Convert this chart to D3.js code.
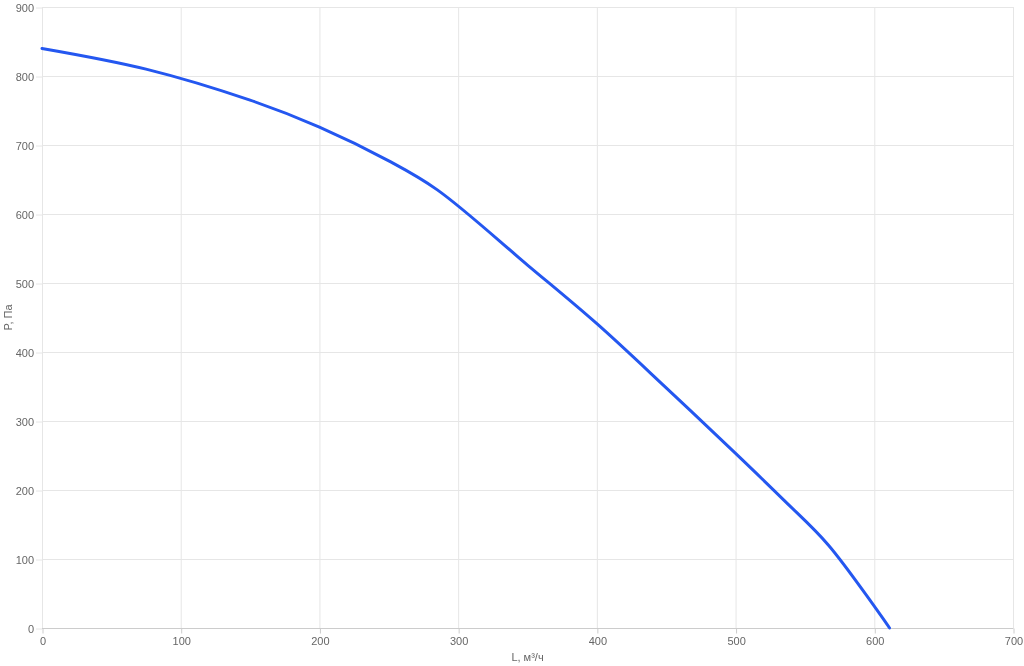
<!DOCTYPE html>
<html><head><meta charset="utf-8">
<script src="https://cdn.jsdelivr.net/npm/d3@7"></script>
<style>
html,body{margin:0;padding:0;background:#fff;}
svg{display:block;font-family:"Liberation Sans",Arial,sans-serif;will-change:transform;}
</style></head>
<body>
<svg id="chart" width="1024" height="666"></svg>
<script>
const flowValues = [0, 75, 150, 200, 250, 285, 350, 400, 450, 500, 535, 567, 611];
const pressureValues = [840, 810, 765, 726, 677, 635, 526, 441, 348, 253, 185, 120, 0];
const xTicks = [0, 100, 200, 300, 400, 500, 600, 700];
const yTicks = [0, 100, 200, 300, 400, 500, 600, 700, 800, 900];
const xTitle = "L, м³/ч";
const yTitle = "P, Па";

const svg = d3.select("#chart");
const m = {left: 42, right: 1013, top: 7, bottom: 628};
const x = d3.scaleLinear().domain([0, 700]).range([m.left, m.right]);
const y = d3.scaleLinear().domain([0, 900]).range([m.bottom, m.top]);

// grid
const grid = svg.append("g");
grid.selectAll(".vg").data(xTicks).join("line")
  .attr("x1", d => x(d) + 0.5).attr("x2", d => x(d) + 0.5)
  .attr("y1", m.top).attr("y2", m.bottom)
  .attr("stroke", "#e6e6e6").attr("stroke-width", 1);
grid.selectAll(".hg").data(yTicks).join("line")
  .attr("x1", m.left).attr("x2", m.right)
  .attr("y1", d => y(d) + 0.5).attr("y2", d => y(d) + 0.5)
  .attr("stroke", "#e6e6e6").attr("stroke-width", 1);

// axes
const xAxis = d3.axisBottom(x).tickValues(xTicks).tickSize(5).tickPadding(4);
const gx = svg.append("g").attr("transform", `translate(0.5,${m.bottom + 0.5})`).call(xAxis);
gx.select(".domain").attr("d", `M${m.left - 0.5},0H${m.right}`).attr("stroke", "#cccccc");
gx.selectAll(".tick line").attr("stroke", "#cccccc");
gx.selectAll("text").attr("fill", "#666").style("font-size", "11px");

const yAxis = d3.axisLeft(y).tickValues(yTicks).tickSize(6).tickPadding(2);
const gy = svg.append("g").attr("transform", `translate(${m.left},0.5)`).call(yAxis);
gy.select(".domain").remove();
gy.selectAll(".tick line").attr("stroke", "#e6e6e6");
gy.selectAll("text").attr("fill", "#666").style("font-size", "11px");

// titles
svg.append("text").attr("x", (m.left + m.right) / 2).attr("y", 661)
  .attr("text-anchor", "middle").attr("fill", "#666").style("font-size", "11px").text(xTitle);
svg.append("text").attr("transform", `translate(12,${(m.top + m.bottom) / 2}) rotate(-90)`)
  .attr("text-anchor", "middle").attr("fill", "#666").style("font-size", "11px").text(yTitle);

// curve
const data = flowValues.map((v, i) => [v, pressureValues[i]]);
const line = d3.line().x(d => x(d[0])).y(d => y(d[1])).curve(d3.curveCatmullRom.alpha(0.5));
svg.append("path").datum(data).attr("d", line)
  .attr("fill", "none").attr("stroke", "#2457f0").attr("stroke-width", 3)
  .attr("stroke-linejoin", "round").attr("stroke-linecap", "round");
</script>
</body></html>
